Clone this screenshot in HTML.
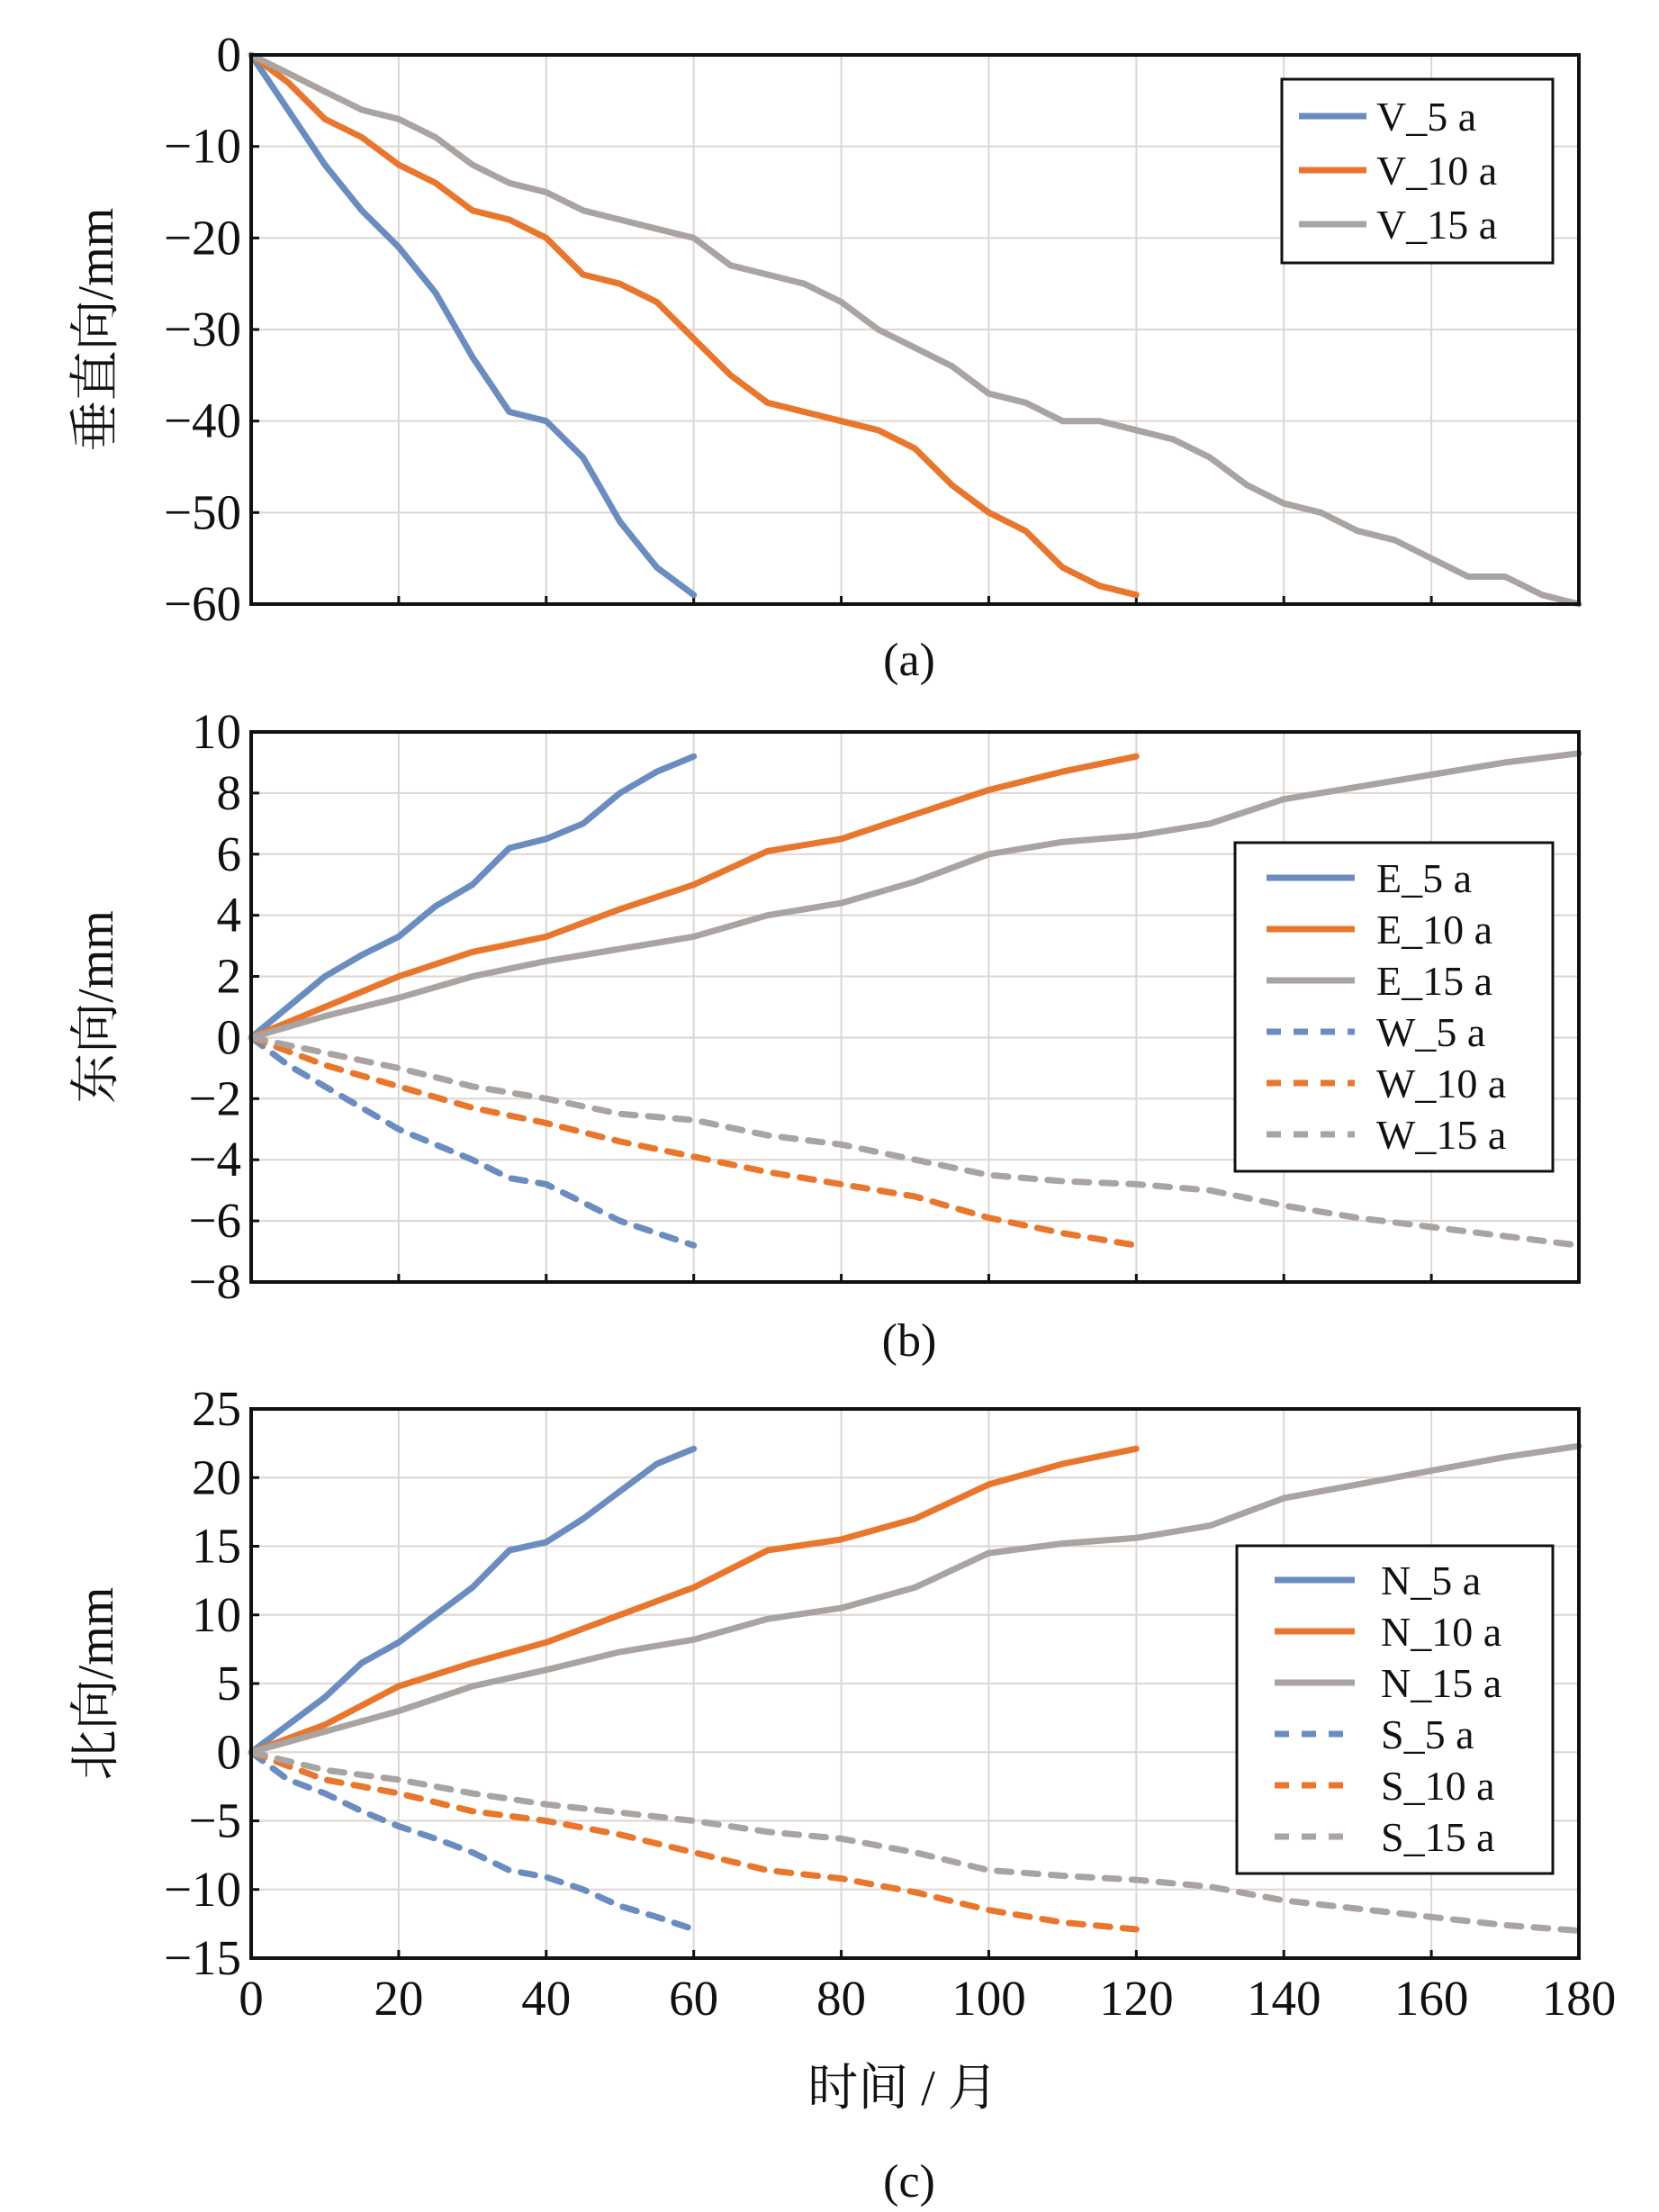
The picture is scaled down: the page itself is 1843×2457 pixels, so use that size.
<!DOCTYPE html>
<html><head><meta charset="utf-8"><style>
html,body{margin:0;padding:0;background:#fff;}
svg{display:block;}
text{font-family:"Liberation Serif","Noto Serif CJK SC","Noto Sans CJK SC",serif;}
</style></head><body>
<svg id="chart" width="1843" height="2457" viewBox="0 0 1843 2457" xmlns="http://www.w3.org/2000/svg" font-family="Liberation Serif, Noto Serif CJK SC, serif"></svg>
<script>
const xTicks=[0,20,40,60,80,100,120,140,160,180];
const aTicks=[0,-10,-20,-30,-40,-50,-60];
const bTicks=[10,8,6,4,2,0,-2,-4,-6,-8];
const cTicks=[25,20,15,10,5,0,-5,-10,-15];
const tV5=[0,5,10,15,20,25,30,35,40,45,50,55,60];
const V5=[0,-6,-12,-17,-21,-26,-33,-39,-40,-44,-51,-56,-59];
const tV10=[0,5,10,15,20,25,30,35,40,45,50,55,60,65,70,75,80,85,90,95,100,105,110,115,120];
const V10=[0,-3,-7,-9,-12,-14,-17,-18,-20,-24,-25,-27,-31,-35,-38,-39,-40,-41,-43,-47,-50,-52,-56,-58,-59];
const tV15=[0,5,10,15,20,25,30,35,40,45,50,55,60,65,70,75,80,85,90,95,100,105,110,115,120,125,130,135,140,145,150,155,160,165,170,175,180];
const V15=[0,-2,-4,-6,-7,-9,-12,-14,-15,-17,-18,-19,-20,-23,-24,-25,-27,-30,-32,-34,-37,-38,-40,-40,-41,-42,-44,-47,-49,-50,-52,-53,-55,-57,-57,-59,-60];
const t5=[0,5,10,15,20,25,30,35,40,45,50,55,60];
const t10=[0,10,20,30,40,50,60,70,80,90,100,110,120];
const t15=[0,10,20,30,40,50,60,70,80,90,100,110,120,130,140,150,160,170,180];
const E5=[0,1,2,2.7,3.3,4.3,5,6.2,6.5,7,8,8.7,9.2];
const E10=[0,1,2,2.8,3.3,4.2,5,6.1,6.5,7.3,8.1,8.7,9.2];
const E15=[0,0.7,1.3,2,2.5,2.9,3.3,4,4.4,5.1,6,6.4,6.6,7,7.8,8.2,8.6,9,9.3];
const W5=[0,-0.9,-1.6,-2.3,-3,-3.5,-4,-4.6,-4.8,-5.4,-6,-6.4,-6.8];
const W10=[0,-0.9,-1.6,-2.3,-2.8,-3.4,-3.9,-4.4,-4.8,-5.2,-5.9,-6.4,-6.8];
const W15=[0,-0.5,-1,-1.6,-2,-2.5,-2.7,-3.2,-3.5,-4,-4.5,-4.7,-4.8,-5,-5.5,-5.9,-6.2,-6.5,-6.8];
const N5=[0,2,4,6.5,8,10,12,14.7,15.3,17,19,21,22.1];
const N10=[0,2,4.8,6.5,8,10,12,14.7,15.5,17,19.5,21,22.1];
const N15=[0,1.5,3,4.8,6,7.3,8.2,9.7,10.5,12,14.5,15.2,15.6,16.5,18.5,19.5,20.5,21.5,22.3];
const S5=[0,-2,-3,-4.3,-5.4,-6.3,-7.3,-8.6,-9.1,-10,-11.2,-12,-12.9];
const S10=[0,-2,-3,-4.3,-5,-6,-7.3,-8.6,-9.2,-10.2,-11.5,-12.4,-12.9];
const S15=[0,-1.3,-2,-3,-3.8,-4.4,-5,-5.8,-6.3,-7.3,-8.6,-9,-9.3,-9.8,-10.8,-11.4,-12,-12.6,-13];

const svg=document.getElementById('chart');
const NS='http://www.w3.org/2000/svg';
const FF='Liberation Serif, Noto Serif CJK SC, serif';
function mk(tag,attrs,parent){const e=document.createElementNS(NS,tag);for(const k in attrs)e.setAttribute(k,attrs[k]);if(tag==='text')e.setAttribute('font-family',FF);(parent||svg).appendChild(e);return e;}
const L=279,R=1754;
const X=v=>L+(v-0)/180*(R-L);
const BLUE='#6a8cbf',ORANGE='#e8762d',GRAY='#a9a3a1';

function panel(key,top,bot,ymin,ymax,ticks,ylabel,cap,series,legend,showX){
  const g=mk('g',{});
  
  
  const Y=v=>bot-(v-ymin)/(ymax-ymin)*(bot-top);
  xTicks.forEach(t=>{const l=mk('line',{x1:X(t),x2:X(t),y1:top,y2:bot,stroke:'#ddd6d2','stroke-width':2},g);
    });
  ticks.forEach(t=>{const l=mk('line',{x1:L,x2:R,y1:Y(t),y2:Y(t),stroke:'#ddd6d2','stroke-width':2},g);
    
    const tk=mk('line',{x1:L,x2:L+9,y1:Y(t),y2:Y(t),stroke:'#111','stroke-width':3},g);
    
    const tx=mk('text',{x:268,y:Y(t)+18,'text-anchor':'end','font-size':55,fill:'#111'},g);
    tx.textContent=(t<0?'\u2212'+(-t):String(t));
    });
  xTicks.forEach(t=>{const tk=mk('line',{x1:X(t),x2:X(t),y1:bot,y2:bot-9,stroke:'#111','stroke-width':3},g);
    
    if(showX){const tx=mk('text',{x:X(t),y:2238,'text-anchor':'middle','font-size':55,fill:'#111'},g);
      tx.textContent=String(t);}});
  series.forEach(s=>{const d=s.t.map((t,i)=>(i?'L':'M')+X(t).toFixed(1)+','+Y(s.v[i]).toFixed(1)).join('');
    const p=mk('path',{d:d,fill:'none',stroke:s.c,'stroke-width':7,'stroke-linejoin':'round','stroke-linecap':'round'},g);
    if(s.dash)p.setAttribute('stroke-dasharray','16 14');
    });
  const fr=mk('rect',{x:L,y:top,width:R-L,height:bot-top,fill:'none',stroke:'#111','stroke-width':4},g);
  
  const cy=(top+bot)/2;
  const yl=mk('text',{x:0,y:0,transform:'translate(125,'+cy+') rotate(-90)','text-anchor':'middle','font-size':56,fill:'#111'},g);
  yl.textContent=ylabel;
  const cp=mk('text',{x:1010,y:cap,'text-anchor':'middle','font-size':52,fill:'#111'},g);
  cp.textContent='('+key+')';
  const lg=mk('g',{},g);
  const lr=mk('rect',{x:legend.x,y:legend.y,width:legend.w,height:legend.h,fill:'#fff',stroke:'#111','stroke-width':3},lg);
  
  series.forEach((s,i)=>{const ry=legend.r0+i*legend.dr;
    const ll=mk('line',{x1:legend.l1,x2:legend.l2,y1:ry,y2:ry,stroke:s.c,'stroke-width':7},lg);
    if(s.dash)ll.setAttribute('stroke-dasharray','16 14');
    
    const lt=mk('text',{x:legend.tx,y:ry+16,'font-size':46,fill:'#111'},lg);
    lt.textContent=s.n+' a';});
}
panel('a',61,671,-60,0,aTicks,'垂直向/mm',750,[
 {n:'V_5',t:tV5,v:V5,c:BLUE},{n:'V_10',t:tV10,v:V10,c:ORANGE},{n:'V_15',t:tV15,v:V15,c:GRAY}],
 {x:1424,y:88,w:301,h:204,r0:129,dr:60,l1:1443,l2:1518,tx:1529},false);
panel('b',813,1424,-8,10,bTicks,'东向/mm',1506,[
 {n:'E_5',t:t5,v:E5,c:BLUE},{n:'E_10',t:t10,v:E10,c:ORANGE},{n:'E_15',t:t15,v:E15,c:GRAY},
 {n:'W_5',t:t5,v:W5,c:BLUE,dash:1},{n:'W_10',t:t10,v:W10,c:ORANGE,dash:1},{n:'W_15',t:t15,v:W15,c:GRAY,dash:1}],
 {x:1372,y:936,w:353,h:365,r0:975,dr:57,l1:1407,l2:1505,tx:1529},false);
panel('c',1565,2175,-15,25,cTicks,'北向/mm',2440,[
 {n:'N_5',t:t5,v:N5,c:BLUE},{n:'N_10',t:t10,v:N10,c:ORANGE},{n:'N_15',t:t15,v:N15,c:GRAY},
 {n:'S_5',t:t5,v:S5,c:BLUE,dash:1},{n:'S_10',t:t10,v:S10,c:ORANGE,dash:1},{n:'S_15',t:t15,v:S15,c:GRAY,dash:1}],
 {x:1374,y:1717,w:351,h:364,r0:1755,dr:57,l1:1416,l2:1505,tx:1534},true);
const xt=mk('text',{x:1003,y:2338,'text-anchor':'middle','font-size':56,fill:'#111'});
xt.textContent='时间 / 月';


</script>
</body></html>
